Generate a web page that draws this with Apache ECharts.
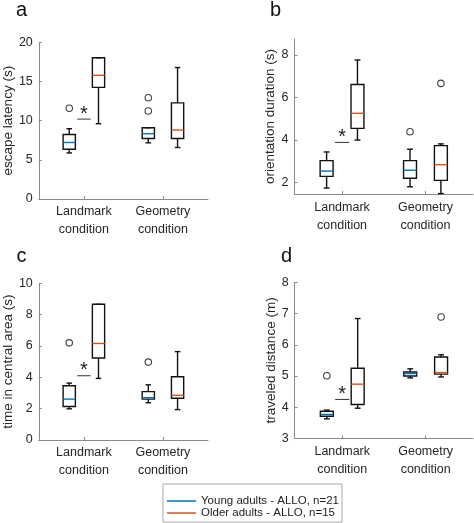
<!DOCTYPE html>
<html>
<head>
<meta charset="utf-8">
<script src="https://cdn.jsdelivr.net/npm/echarts@6/dist/echarts.min.js"></script>
<style>
html,body{margin:0;padding:0;background:#fff;}
#chart{width:474px;height:523px;}
</style>
</head>
<body>
<div id="chart"></div>
<script>
// ---------------- DATA ----------------
const tickLabels = ['Landmark\ncondition', 'Geometry\ncondition'];
const groups = ['Young adults - ALLO, n=21', 'Older adults - ALLO, n=15'];
const panelLetters = ['a', 'b', 'c', 'd'];
const yNames = ['escape latency (s)', 'orientation duration (s)', 'time in central area (s)', 'traveled distance (m)'];

// each row (per condition): [lower whisker, Q1, median, Q3, upper whisker]
const latencyYoung = [[5.88, 6.35, 7.21, 8.24, 8.97], [7.17, 7.73, 8.33, 9.10, 9.10]];
const latencyOlder = [[9.61, 14.25, 15.79, 18.03, 18.03], [6.57, 7.73, 8.80, 12.27, 16.78]];
const latencyYoungOut = [[0, 11.59], [1, 12.92], [1, 11.24]];
const latencyOlderOut = [];
const latencySig = 10.2;

const orientYoung = [[1.73, 2.28, 2.53, 3.02, 3.43], [1.79, 2.19, 2.57, 3.02, 3.56]];
const orientOlder = [[3.99, 4.54, 5.25, 6.61, 7.76], [1.47, 2.09, 2.83, 3.73, 3.81]];
const orientYoungOut = [[1, 4.38]];
const orientOlderOut = [[1, 6.66]];
const orientSig = 3.88;

const centralYoung = [[1.99, 2.14, 2.61, 3.46, 3.63], [2.38, 2.61, 2.70, 3.09, 3.52]];
const centralOlder = [[3.93, 5.23, 6.16, 8.66, 8.66], [1.94, 2.66, 2.85, 4.04, 5.64]];
const centralYoungOut = [[0, 6.20], [1, 4.97]];
const centralOlderOut = [];
const centralSig = 4.10;

const distanceYoung = [[3.63, 3.71, 3.77, 3.87, 3.91], [4.94, 5.00, 5.08, 5.13, 5.23]];
const distanceOlder = [[3.97, 4.09, 4.74, 5.25, 6.84], [4.97, 5.06, 5.11, 5.61, 5.68]];
const distanceYoungOut = [[0, 5.01]];
const distanceOlderOut = [[1, 6.89]];
const distanceSig = 4.25;

// y axis ticks
const yTicksA = [0, 5, 10, 15, 20];
const yTicksB = [2, 4, 6, 8];
const yTicksC = [0, 2, 4, 6, 8, 10];
const yTicksD = [3, 4, 5, 6, 7, 8];

// ---------------- STYLE / LAYOUT ----------------
const FONT = 'Liberation Sans, Arial, Helvetica, sans-serif';
const TEXT = '#262626';
const AXIS = '#8a8a8a';
const COLORS = ['#0072BD', '#D95319'];
const OFFSET = 0.185, BOX_W = 0.155, CAP_W = 0.07, SIG_HALF = 0.085;

const panels = [
  {young: latencyYoung, older: latencyOlder, yOut: latencyYoungOut, oOut: latencyOlderOut, sig: latencySig,
   grid: {left: 35.7, top: 42.3, width: 172.3, height: 156.7}, ymin: 0, ymax: 20, ticks: yTicksA, nameGap: 22, labelMargin: 4,
   letterPos: {left: 16, top: 0}},
  {young: orientYoung, older: orientOlder, yOut: orientYoungOut, oOut: orientOlderOut, sig: orientSig,
   grid: {left: 294.5, top: 39, width: 178.5, height: 155}, ymin: 1.45, ymax: 8.75, ticks: yTicksB, nameGap: 14, labelMargin: 5,
   letterPos: {left: 270, top: 0}},
  {young: centralYoung, older: centralOlder, yOut: centralYoungOut, oOut: centralOlderOut, sig: centralSig,
   grid: {left: 35.7, top: 283.3, width: 172.3, height: 156.7}, ymin: 0, ymax: 10, ticks: yTicksC, nameGap: 22, labelMargin: 4,
   letterPos: {left: 16.5, top: 246}},
  {young: distanceYoung, older: distanceOlder, yOut: distanceYoungOut, oOut: distanceOlderOut, sig: distanceSig,
   grid: {left: 294.7, top: 282.3, width: 178.5, height: 156.2}, ymin: 3, ymax: 8, ticks: yTicksD, nameGap: 16, labelMargin: 4,
   letterPos: {left: 281, top: 246}}
];

function boxRenderer(medColor) {
  return function (params, api) {
    const x = api.value(0);
    const lo = api.value(1), q1 = api.value(2), med = api.value(3), q3 = api.value(4), hi = api.value(5);
    const c = (a, b) => api.coord([a, b]);
    const st = {stroke: '#111', lineWidth: 1.4, fill: null};
    const line = (p1, p2, s) => ({type: 'line', shape: {x1: p1[0], y1: p1[1], x2: p2[0], y2: p2[1]}, style: s || st});
    const tl = c(x - BOX_W / 2, q3), br = c(x + BOX_W / 2, q1);
    return {
      type: 'group',
      children: [
        line(c(x, q3), c(x, hi)),
        line(c(x, q1), c(x, lo)),
        line(c(x - CAP_W / 2, hi), c(x + CAP_W / 2, hi)),
        line(c(x - CAP_W / 2, lo), c(x + CAP_W / 2, lo)),
        {type: 'rect', shape: {x: tl[0], y: tl[1], width: br[0] - tl[0], height: br[1] - tl[1]},
         style: {stroke: '#111', lineWidth: 1.4, fill: 'rgba(0,0,0,0)'}},
        line(c(x - BOX_W / 2, med), c(x + BOX_W / 2, med), {stroke: medColor, lineWidth: 1.4})
      ]
    };
  };
}

function sigRenderer(params, api) {
  const x = api.value(0), y = api.value(1);
  const p1 = api.coord([x - SIG_HALF, y]), p2 = api.coord([x + SIG_HALF, y]);
  const pc = api.coord([x, y]);
  return {
    type: 'group',
    children: [
      {type: 'line', shape: {x1: p1[0], y1: p1[1], x2: p2[0], y2: p2[1]}, style: {stroke: '#333', lineWidth: 1}},
      {type: 'text', x: pc[0], y: pc[1] + 5,
       style: {text: '*', fill: '#222', font: '20px ' + FONT, align: 'center', verticalAlign: 'bottom'}}
    ]
  };
}

const grids = [], xAxes = [], yAxes = [], series = [], titles = [];
panels.forEach((p, i) => {
  grids.push(Object.assign({show: false}, p.grid));
  xAxes.push({
    type: 'value', gridIndex: i, min: 0.43, max: 2.57,
    axisLine: {show: true, onZero: false, lineStyle: {color: AXIS, width: 1}},
    axisTick: {show: true, inside: true, length: 3, customValues: [1, 2], lineStyle: {color: AXIS}},
    axisLabel: {customValues: [1, 2], formatter: v => tickLabels[Math.round(v) - 1], margin: p.labelMargin,
      fontSize: 12.5, lineHeight: 18, color: TEXT, fontFamily: FONT},
    splitLine: {show: false}
  });
  yAxes.push({
    type: 'value', gridIndex: i, min: p.ymin, max: p.ymax,
    name: yNames[i], nameLocation: 'middle', nameGap: p.nameGap,
    nameTextStyle: {fontSize: 13.5, color: TEXT, fontFamily: FONT},
    axisLine: {show: true, onZero: false, lineStyle: {color: AXIS, width: 1}},
    axisTick: {show: true, inside: true, length: 3, customValues: p.ticks, lineStyle: {color: AXIS}},
    axisLabel: {customValues: p.ticks, margin: 6, fontSize: 12.5, color: TEXT, fontFamily: FONT},
    splitLine: {show: false}
  });
  titles.push({text: panelLetters[i], left: p.letterPos.left, top: p.letterPos.top, padding: 0,
    textStyle: {fontSize: 20, fontWeight: 'normal', color: '#111', fontFamily: FONT}});

  [[p.young, -OFFSET, 0], [p.older, OFFSET, 1]].forEach(([stats, off, g]) => {
    series.push({
      type: 'custom', name: groups[g], xAxisIndex: i, yAxisIndex: i,
      renderItem: boxRenderer(COLORS[g]), itemStyle: {color: COLORS[g]},
      encode: {x: 0, y: [1, 2, 3, 4, 5]}, clip: false, silent: true,
      data: stats.map((s, ci) => [ci + 1 + off].concat(s))
    });
  });
  [[p.yOut, -OFFSET, 0], [p.oOut, OFFSET, 1]].forEach(([outs, off, g]) => {
    if (!outs.length) return;
    series.push({
      type: 'scatter', name: groups[g], xAxisIndex: i, yAxisIndex: i,
      symbol: 'circle', symbolSize: 6.5, silent: true,
      itemStyle: {color: 'rgba(255,255,255,0)', borderColor: '#111', borderWidth: 1.1},
      data: outs.map(([ci, v]) => [ci + 1 + off, v])
    });
  });
  series.push({
    type: 'custom', name: 'sig', xAxisIndex: i, yAxisIndex: i, renderItem: sigRenderer, silent: true,
    encode: {x: 0, y: 1}, clip: false,
    data: [[1, p.sig]]
  });
});

const chart = echarts.init(document.getElementById('chart'), null, {renderer: 'canvas'});
chart.setOption({
  animation: false,
  backgroundColor: '#fff',
  title: titles,
  grid: grids,
  xAxis: xAxes,
  yAxis: yAxes,
  legend: {
    left: 163, top: 484, height: 26, orient: 'vertical', selectedMode: false,
    padding: [11, 3, 3, 4], itemGap: 0, itemWidth: 29, itemHeight: 1.5,
    borderColor: '#aaa', borderWidth: 1, backgroundColor: '#fff',
    textStyle: {fontSize: 11.5, color: '#222', lineHeight: 11.6, fontFamily: FONT},
    data: groups.map((g, k) => ({name: g, icon: 'rect', itemStyle: {color: COLORS[k]}}))
  },
  series: series
});
</script>
</body>
</html>
